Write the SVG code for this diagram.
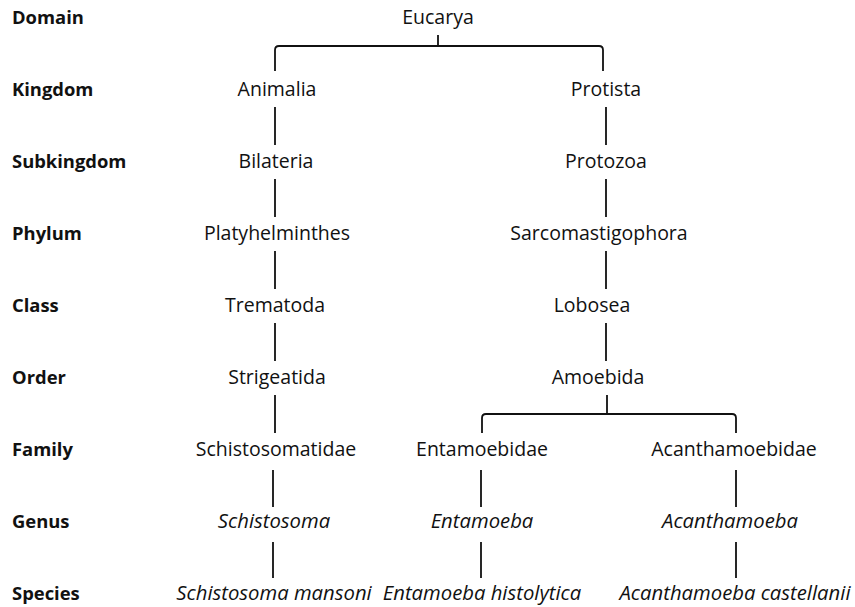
<svg xmlns="http://www.w3.org/2000/svg" width="855" height="607" viewBox="0 0 855 607">
<style>
.lbl{font-family:"Open Sans","Liberation Sans",sans-serif;font-weight:bold;font-size:18.4px;fill:#111}
.t{font-family:"Open Sans","Liberation Sans",sans-serif;font-size:19.5px;fill:#111;text-anchor:middle}
.i{font-style:italic;font-size:20.3px}
.c{stroke:#111;stroke-width:1.8;fill:none}
</style>
<rect width="855" height="607" fill="#fff"/>
<g id="labels">
<text class="lbl" x="12" y="24">Domain</text>
<text class="lbl" x="12" y="96">Kingdom</text>
<text class="lbl" x="12" y="168">Subkingdom</text>
<text class="lbl" x="12" y="240">Phylum</text>
<text class="lbl" x="12" y="312">Class</text>
<text class="lbl" x="12" y="384">Order</text>
<text class="lbl" x="12" y="456">Family</text>
<text class="lbl" x="12" y="528">Genus</text>
<text class="lbl" x="12" y="600">Species</text>
</g>
<g id="connectors">
<path class="c" d="M438 35 V46 M275 71 V50 Q275 46 279 46 H599 Q603 46 603 50 V71"/>
<path class="c" d="M275 107 V145 M275 179 V217 M275 251 V289 M275 323 V361 M275 395 V433 M273 470 V507 M273 542 V578"/>
<path class="c" d="M606 107 V145 M606 179 V217 M606 251 V289 M606 323 V361"/>
<path class="c" d="M607 395 V414 M482 433 V418 Q482 414 486 414 H732 Q736 414 736 418 V433"/>
<path class="c" d="M481 470 V507 M481 542 V578 M736 470 V507 M736 542 V578"/>
</g>
<g id="n-eucarya"><text class="t" x="438" y="24">Eucarya</text></g>
<g id="n-animalia"><text class="t" x="277" y="96">Animalia</text></g>
<g id="n-protista"><text class="t" x="606" y="96">Protista</text></g>
<g id="n-bilateria"><text class="t" x="276" y="168">Bilateria</text></g>
<g id="n-protozoa"><text class="t" x="606" y="168">Protozoa</text></g>
<g id="n-platyhelminthes"><text class="t" x="277" y="240">Platyhelminthes</text></g>
<g id="n-sarcomastigophora"><text class="t" x="599" y="240">Sarcomastigophora</text></g>
<g id="n-trematoda"><text class="t" x="275" y="312">Trematoda</text></g>
<g id="n-lobosea"><text class="t" x="592" y="312">Lobosea</text></g>
<g id="n-strigeatida"><text class="t" x="277" y="384">Strigeatida</text></g>
<g id="n-amoebida"><text class="t" x="598" y="384">Amoebida</text></g>
<g id="n-schistosomatidae"><text class="t" x="276" y="456">Schistosomatidae</text></g>
<g id="n-entamoebidae"><text class="t" x="482" y="456">Entamoebidae</text></g>
<g id="n-acanthamoebidae"><text class="t" x="734" y="456">Acanthamoebidae</text></g>
<g id="n-schistosoma"><text class="t i" x="274" y="528">Schistosoma</text></g>
<g id="n-entamoeba"><text class="t i" x="482" y="528">Entamoeba</text></g>
<g id="n-acanthamoeba"><text class="t i" x="730" y="528">Acanthamoeba</text></g>
<g id="n-s-mansoni"><text class="t i" x="274" y="600">Schistosoma mansoni</text></g>
<g id="n-e-histolytica"><text class="t i" x="482" y="600">Entamoeba histolytica</text></g>
<g id="n-a-castellanii"><text class="t i" x="735" y="600">Acanthamoeba castellanii</text></g>
</svg>
